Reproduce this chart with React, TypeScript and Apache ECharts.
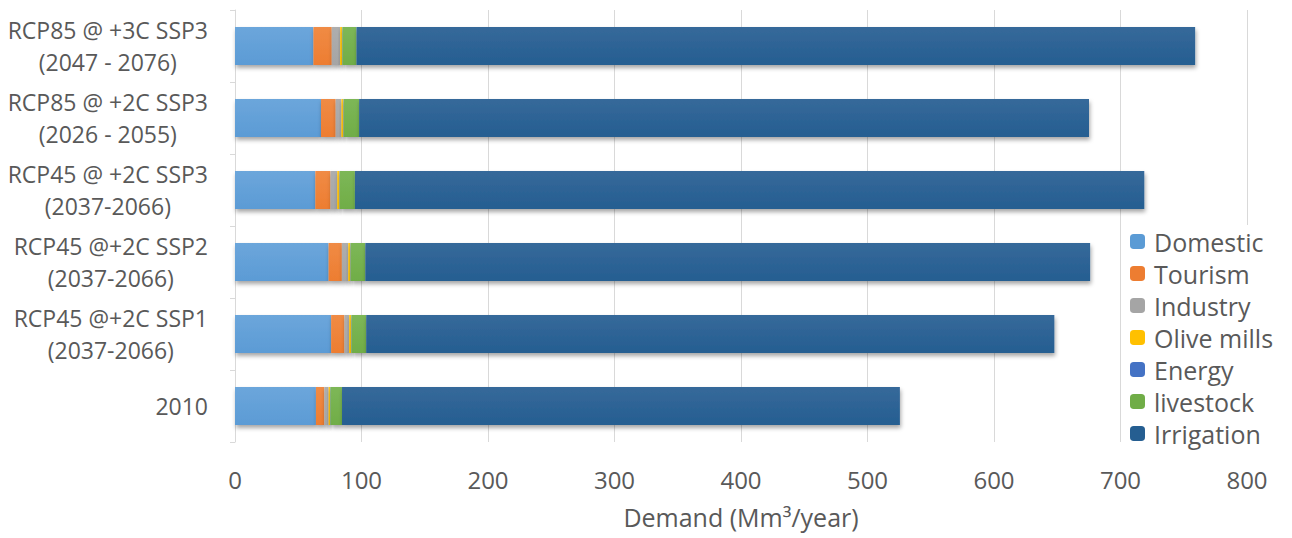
import React, { useEffect, useRef } from "react";
import * as echarts from "echarts";

// Scenario rows, bottom to top as the category axis stacks them
const categories = [
  "2010",
  "RCP45 @+2C SSP1\n(2037-2066)",
  "RCP45 @+2C SSP2\n(2037-2066)",
  "RCP45 @ +2C SSP3\n(2037-2066)",
  "RCP85 @ +2C SSP3\n(2026 - 2055)",
  "RCP85 @ +3C SSP3\n(2047 - 2076)",
];

// Water demand by sector (Mm3/year)
const domestic = [64, 76, 74, 63.5, 68, 62];
const tourism = [6.6, 10.5, 10.5, 12, 11.6, 14.5];
const industry = [3.4, 3.7, 5, 5.3, 4.5, 6.6];
const oliveMills = [1.1, 1.6, 1.6, 1.8, 1.6, 1.6];
const energy = [0.3, 0.3, 0.3, 0.3, 0.3, 0.3];
const livestock = [9.2, 11.6, 11.6, 11.9, 12.1, 11];
const irrigation = [441, 544, 573, 624, 577, 663];

const xTicks = { min: 0, max: 800, interval: 100 };

const sectors = [
  { name: "Domestic", data: domestic, color: "#5B9BD5", light: "#6CA6DB" },
  { name: "Tourism", data: tourism, color: "#ED7D31", light: "#F08B45" },
  { name: "Industry", data: industry, color: "#A5A5A5", light: "#AEAEAE" },
  { name: "Olive mills", data: oliveMills, color: "#FFC000", light: "#FFC81F" },
  { name: "Energy", data: energy, color: "#4472C4", light: "#5480CC" },
  { name: "livestock", data: livestock, color: "#70AD47", light: "#7DB757" },
  { name: "Irrigation", data: irrigation, color: "#255E91", light: "#36699A" },
];

const FONT = "'Open Sans', sans-serif";
const TEXT = "#595959";

// Each line of a category label is a centred token inside a right-aligned block
const formatCategory = (v: string) =>
  v
    .split("\n")
    .map((line) => `{c|${line}}`)
    .join("\n");

export default function App() {
  const ref = useRef<HTMLDivElement>(null);

  useEffect(() => {
    if (!ref.current) return;
    const chart = echarts.init(ref.current, undefined, { renderer: "svg" });
    chart.setOption({
      animation: false,
      backgroundColor: "#ffffff",
      grid: {
        left: 235,
        right: 45,
        top: 10,
        bottom: 96,
        containLabel: false,
        outerBoundsMode: "none",
      },
      legend: {
        orient: "vertical",
        left: 1122,
        top: 225,
        itemWidth: 15,
        itemHeight: 15,
        itemGap: 7,
        backgroundColor: "#ffffff",
        padding: [4, 4, 4, 8],
        textStyle: { fontFamily: FONT, fontSize: 25, color: TEXT, padding: [0, 0, 0, 4] },
        data: sectors.map((s) => ({ name: s.name, itemStyle: { color: s.color } })),
      },
      xAxis: {
        type: "value",
        min: xTicks.min,
        max: xTicks.max,
        interval: xTicks.interval,
        name: "Demand (Mm³/year)",
        nameLocation: "middle",
        nameGap: 62,
        nameTextStyle: { fontFamily: FONT, fontSize: 25, color: TEXT },
        axisLine: { show: false },
        axisTick: { show: false },
        axisLabel: { fontFamily: FONT, fontSize: 24, color: TEXT, margin: 25 },
        splitLine: { show: true, lineStyle: { color: "#D9D9D9", width: 1 } },
      },
      yAxis: {
        type: "category",
        data: categories,
        axisLine: { show: true, lineStyle: { color: "#D9D9D9", width: 1 } },
        axisTick: { show: true, length: 5, lineStyle: { color: "#D9D9D9" } },
        axisLabel: {
          fontFamily: FONT,
          fontSize: 23,
          color: TEXT,
          margin: 27,
          lineHeight: 32,
          formatter: formatCategory,
          rich: {
            c: { align: "center", fontFamily: FONT, fontSize: 23, color: TEXT, lineHeight: 32 },
          },
        },
      },
      series: sectors.map((s) => ({
        name: s.name,
        type: "bar",
        stack: "demand",
        barWidth: 38,
        data: s.data,
        itemStyle: {
          color: new echarts.graphic.LinearGradient(0, 0, 0, 1, [
            { offset: 0, color: s.light },
            { offset: 1, color: s.color },
          ]),
          shadowColor: "rgba(0,0,0,0.35)",
          shadowBlur: 4,
          shadowOffsetY: 3,
          shadowOffsetX: 1,
        },
      })),
    });
    return () => chart.dispose();
  }, []);

  return (
    <div
      ref={ref}
      style={{ position: "absolute", left: 0, top: 0, width: 1292, height: 538 }}
    />
  );
}
